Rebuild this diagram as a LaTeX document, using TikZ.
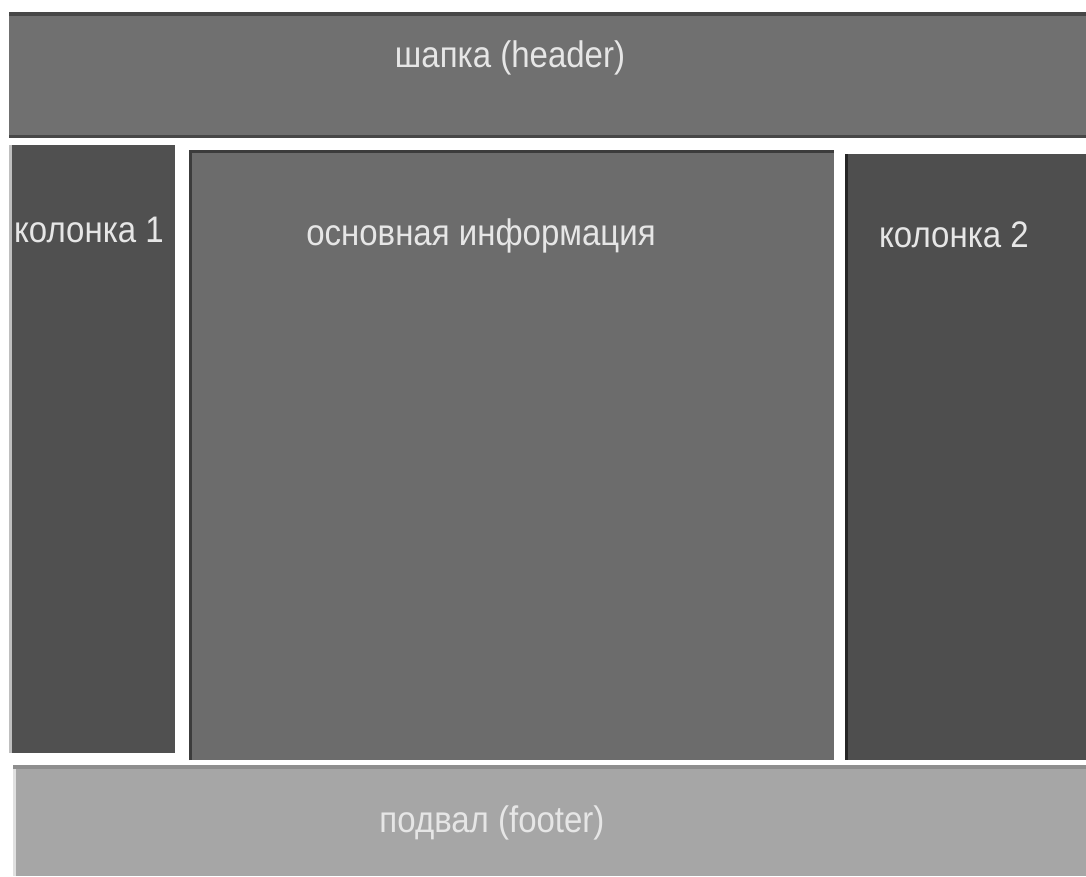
\documentclass[tikz,border=0pt]{standalone}
\usepackage{fontspec}
\setmainfont{Liberation Sans}
\definecolor{headfill}{HTML}{707070}
\definecolor{headline}{HTML}{474747}
\definecolor{colfill}{HTML}{505050}
\definecolor{mainfill}{HTML}{6C6C6C}
\definecolor{mainline}{HTML}{3C3C3C}
\definecolor{col2line}{HTML}{262626}
\definecolor{footfill}{HTML}{A6A6A6}
\definecolor{footline}{HTML}{8E8E8E}
\definecolor{labeltext}{HTML}{E6E6E6}
\newcommand{\tallbox}[1]{\scalebox{1}[1.12]{#1}}
\begin{document}
\begin{tikzpicture}[x=1pt,y=-1pt,
  label/.style={anchor=base, inner sep=0pt, text=labeltext,
    font=\fontsize{33}{39}\selectfont}]
\useasboundingbox (0,0) rectangle (1086,876);
\fill[white] (0,0) rectangle (1086,876);
% header block
\fill[headfill] (9,12) rectangle (1086,138);
\fill[headline] (9,12) rectangle (1086,16);
\fill[headline] (9,135) rectangle (1086,138);
% left column
\fill[colfill] (11,145) rectangle (175,753);
\fill[black!25] (9,145) rectangle (12,753);
% main content
\fill[mainfill] (189,150) rectangle (834,760);
\draw[mainline, line width=3pt] (190.5,760) -- (190.5,151.5) -- (834,151.5);
% right column
\fill[colfill!97!black] (845,154) rectangle (1086,760);
\fill[col2line] (845,154) rectangle (848,760);
% footer block
\fill[footfill] (13,765) rectangle (1086,876);
\fill[footline] (13,765) rectangle (1086,769);
\fill[black!12] (13,769) rectangle (16,876);
% labels
\node[label] (header) at (510,67) {\tallbox{шапка (header)}};
\node[label] (col1) at (89,242) {\tallbox{колонка 1}};
\node[label] (main) at (481,245) {\tallbox{основная информация}};
\node[label] (col2) at (954,247) {\tallbox{колонка 2}};
\node[label] (footer) at (492,832) {\tallbox{подвал (footer)}};
\end{tikzpicture}
\end{document}
